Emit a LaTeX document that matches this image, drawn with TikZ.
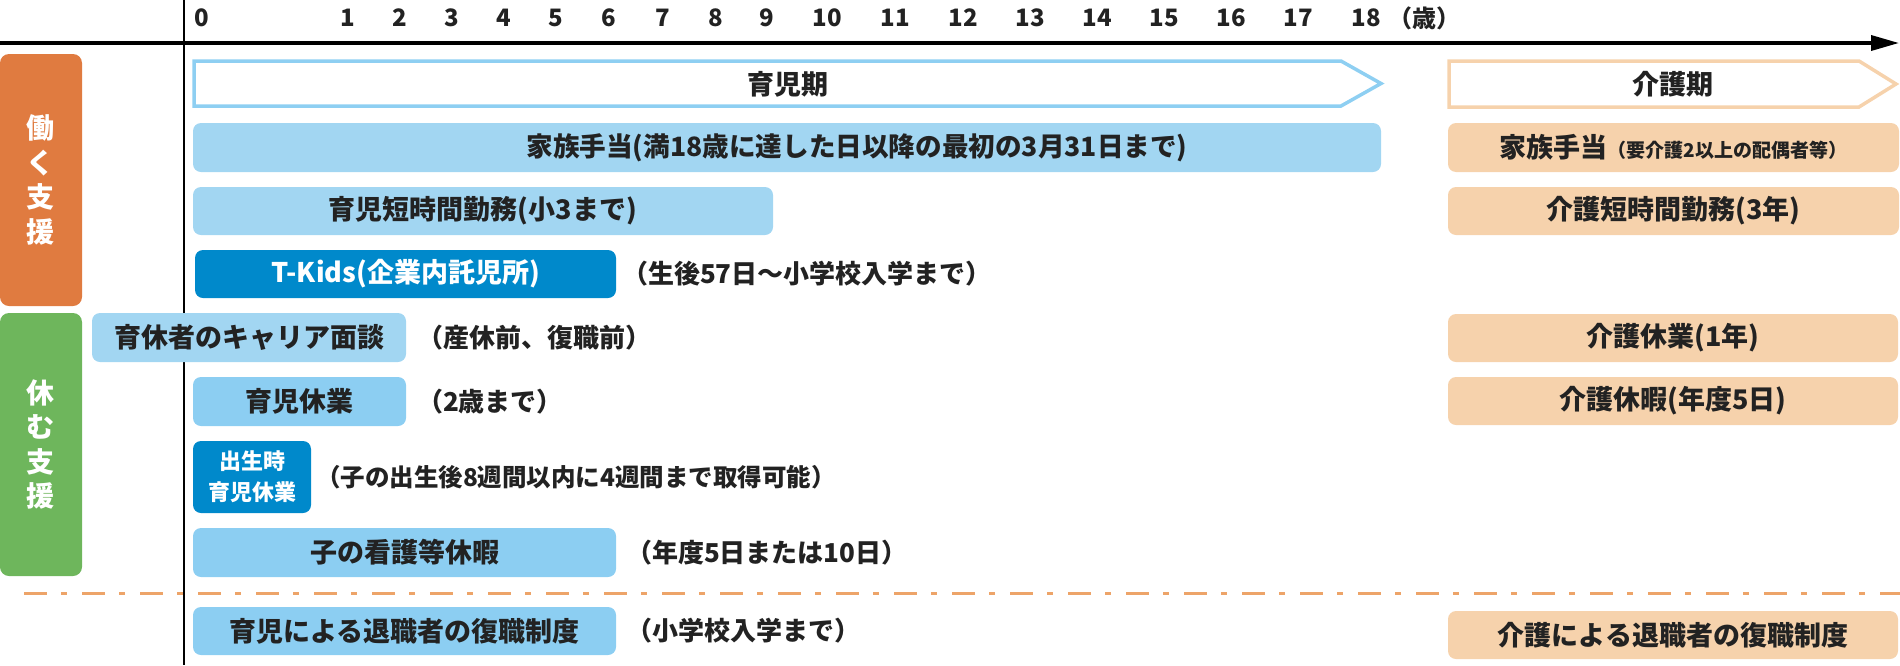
\documentclass[tikz,border=0pt]{standalone}
\usepackage{fontspec}
\setmainfont{Noto Sans CJK JP}
\usetikzlibrary{arrows.meta}
\definecolor{txt}{HTML}{222222}
\definecolor{catorange}{HTML}{E07B40}
\definecolor{catgreen}{HTML}{6EB65C}
\definecolor{lbA}{HTML}{A2D6F2}
\definecolor{lbB}{HTML}{8CCEF2}
\definecolor{dblue}{HTML}{0089CB}
\definecolor{peach}{HTML}{F6D2AC}
\definecolor{arrblue}{HTML}{8ECFF2}
\definecolor{dashc}{HTML}{EDA469}
\newcommand{\fs}[1]{\fontsize{#1}{#1}\selectfont}
\begin{document}
\begin{tikzpicture}[x=1pt,y=-1pt,
  every node/.style={inner sep=0pt,outer sep=0pt,text=txt,font=\bfseries\fs{27}},
  bx/.style={rounded corners=8pt,minimum height=49pt,align=center},
  catbox/.style={rounded corners=9pt,minimum width=82pt,text=white,align=center,font=\bfseries\fontsize{28}{34.5}\selectfont},
  tick/.style={font=\bfseries\fs{24}},
  note/.style={anchor=west,font=\bfseries\fs{26}},
  period/.style={line width=3.5pt,line join=miter}
]
\useasboundingbox (0,0) rectangle (1900,665);

% axes
\coordinate (axL) at (0,43);
\coordinate (axR) at (1899,43);
\coordinate (vT) at (184,0);
\coordinate (vB) at (184,665);
\draw[line width=2pt] (vT) -- (vB);
\draw[line width=3.5pt,-{Triangle[length=28pt,width=15pt]}] (axL) -- (axR);

% tick labels
\foreach \n/\x in {0/202,1/348,2/400,3/452,4/504,5/556,6/609,7/663,8/716,9/767,10/827,11/895,12/963,13/1030,14/1097,15/1164,16/1231,17/1298,18/1366}
  \node[tick] (t\n) at (\x,18) {\n};
\node[tick,anchor=west] (sai) at (1388,18) {（歳）};

% period arrows
\draw[period,draw=arrblue] (194,61) -- (1341,61) -- (1381,83.5) -- (1341,106) -- (194,106) -- cycle;
\node (ikujiki) at (788,84) {育児期};
\draw[period,draw=peach] (1449,61) -- (1859,61) -- (1896,84) -- (1859,107) -- (1449,107) -- cycle;
\node (kaigoki) at (1673,84) {介護期};

% category boxes
\node[catbox,fill=catorange,minimum height=252pt] (hataraku) at (41,180) {働\\く\\支\\援};
\node[catbox,fill=catgreen,minimum height=263pt] (yasumu) at (41,444.5) {休\\む\\支\\援};

% left boxes
\node[bx,fill=lbA,minimum width=1188pt] (fam) at (787,147.5) {};
\node[font=\bfseries\fs{26.6}] (famtxt) at (857,148) {家族手当(満18歳に達した日以降の最初の3月31日まで)};
\node[bx,fill=lbA,minimum width=580pt,minimum height=48pt] (tan) at (483,211) {育児短時間勤務(小3まで)};
\node[bx,fill=dblue,text=white,minimum width=421pt,minimum height=48pt] (tkids) at (405.5,274) {T-Kids(企業内託児所)};
\node[note] (tkidsn) at (622,274) {（生後57日～小学校入学まで）};
\node[bx,fill=lbA,minimum width=314pt] (career) at (249,337.5) {育休者のキャリア面談};
\node[note] (careern) at (417,337.5) {（産休前、復職前）};
\node[bx,fill=lbB,minimum width=213pt] (ikukyu) at (299.5,401.5) {育児休業};
\node[note] (ikukyun) at (417,401.5) {（2歳まで）};
\node[bx,fill=dblue,text=white,minimum width=118pt,minimum height=72pt,font=\bfseries\fontsize{22}{31}\selectfont] (shussei) at (252,477) {出生時\\育児休業};
\node[note,font=\bfseries\fs{24.5}] (shusseinote) at (316,477) {（子の出生後8週間以内に4週間まで取得可能）};
\node[bx,fill=lbB,minimum width=423pt] (kango) at (404.5,552.5) {子の看護等休暇};
\node[note] (kangon) at (626,552.5) {（年度5日または10日）};

% divider
\coordinate (dL) at (24,593);
\coordinate (dR) at (1900,593);
\draw[dashc,line width=3pt,dash pattern=on 23pt off 14pt on 6pt off 15pt] (dL) -- (dR);

\node[bx,fill=lbB,minimum width=423pt,minimum height=48pt] (fuku) at (404.5,631) {育児による退職者の復職制度};
\node[note] (fukun) at (626,631) {（小学校入学まで）};

% right boxes
\node[bx,fill=peach,minimum width=451pt] (rfam) at (1673.5,147.5) {家族手当{\fs{19}（要介護2以上の配偶者等）}};
\node[bx,fill=peach,minimum width=451pt,minimum height=48pt] (rtan) at (1673.5,211) {介護短時間勤務(3年)};
\node[bx,fill=peach,minimum width=450pt,minimum height=48pt] (rkyu) at (1673,338) {介護休業(1年)};
\node[bx,fill=peach,minimum width=450pt,minimum height=48pt] (rkyuka) at (1673,401) {介護休暇(年度5日)};
\node[bx,fill=peach,minimum width=450pt,minimum height=48pt] (rfuku) at (1673,635) {介護による退職者の復職制度};
\end{tikzpicture}
\end{document}
